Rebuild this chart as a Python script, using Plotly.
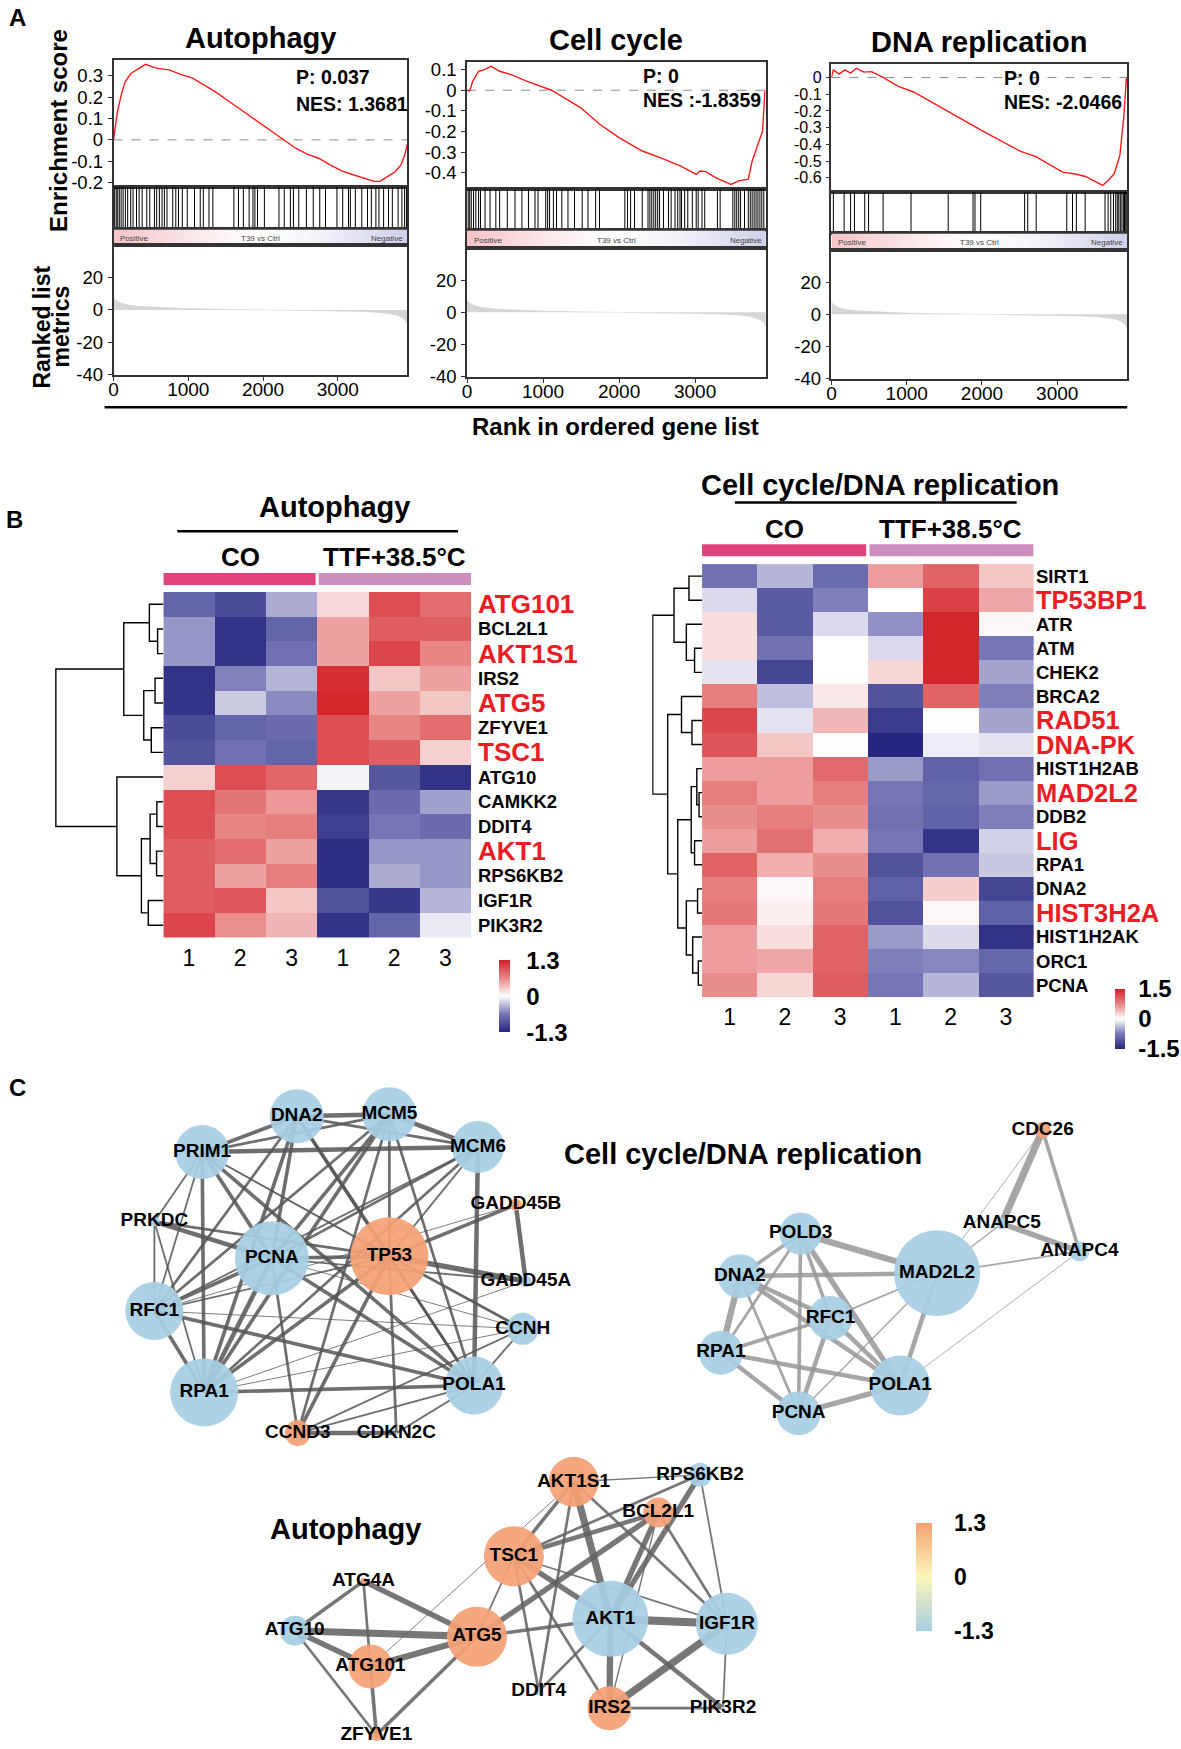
import plotly.graph_objects as go

W, H = 1181, 1749
FONT = "Liberation Sans, Arial, Helvetica, sans-serif"

# ====================== DATA ======================
# ---- Panel A : GSEA ----
gsea_titles = ["Autophagy", "Cell cycle", "DNA replication"]
gsea_p_text = ["P: 0.037", "P: 0", "P: 0"]
gsea_nes_text = ["NES: 1.3681", "NES :-1.8359", "NES: -2.0466"]
n_genes = 3930
rank_ticks = [0, 1000, 2000, 3000]
metric_ticks = [-40, -20, 0, 20]
es_ticks_autophagy = [-0.2, -0.1, 0, 0.1, 0.2, 0.3]
es_ticks_cellcycle = [-0.4, -0.3, -0.2, -0.1, 0, 0.1]
es_ticks_dnarep = [-0.6, -0.5, -0.4, -0.3, -0.2, -0.1, 0]

es_rank_autophagy = [0, 51, 103, 154, 231, 333, 426, 513, 590, 744, 897, 1051, 1205, 1359, 1615, 1872,
                     2128, 2282, 2436, 2590, 2744, 2897, 3051, 3205, 3359, 3487, 3564, 3641, 3718, 3769,
                     3846, 3897, 3930]
es_autophagy = [0.0, 0.13, 0.21, 0.27, 0.31, 0.334, 0.353, 0.342, 0.334, 0.327, 0.306, 0.29, 0.257, 0.225,
                0.163, 0.101, 0.039, 0.0, -0.039, -0.067, -0.086, -0.117, -0.145, -0.163, -0.179, -0.194,
                -0.194, -0.179, -0.16, -0.148, -0.117, -0.07, -0.02]

es_rank_cellcycle = [0, 35, 76, 152, 227, 318, 429, 581, 783, 985, 1111, 1492, 1746, 2000, 2305, 2558, 2812,
                     3015, 3066, 3142, 3269, 3472, 3574, 3700, 3751, 3827, 3888, 3919]
es_cellcycle = [0.0, -0.003, 0.044, 0.092, 0.1, 0.116, 0.092, 0.076, 0.044, 0.016, 0.0, -0.084, -0.165, -0.23,
                -0.295, -0.33, -0.368, -0.408, -0.392, -0.395, -0.424, -0.457, -0.44, -0.432, -0.343, -0.262,
                -0.198, 0.0]

es_rank_dnarep = [0, 25, 102, 178, 254, 330, 431, 533, 685, 888, 1091, 1497, 2005, 2513, 2716, 3071, 3223,
                  3376, 3604, 3680, 3756, 3832, 3883, 3919]
es_dnarep = [0.0, 0.045, 0.02, 0.045, 0.026, 0.055, 0.032, 0.035, 0.0, -0.053, -0.087, -0.191, -0.32, -0.442,
             -0.473, -0.566, -0.576, -0.592, -0.645, -0.615, -0.576, -0.467, -0.241, -0.004]

hits_autophagy = [15, 36, 56, 77, 102, 128, 158, 189, 230, 261, 307, 342, 383, 445, 485, 547, 577, 613, 649, 680,
                  715, 792, 833, 869, 920, 986, 1083, 1160, 1201, 1277, 1329, 1610, 1671, 1737, 1814, 1865, 1891,
                  1926, 2018, 2213, 2284, 2366, 2407, 2478, 2580, 2672, 2759, 2836, 2989, 3066, 3143, 3168, 3235,
                  3321, 3398, 3449, 3510, 3551, 3613, 3679, 3730, 3807, 3858, 3894, 3919]
hits_cellcycle = [15, 35, 56, 86, 116, 152, 177, 237, 303, 379, 429, 530, 631, 722, 808, 894, 934, 1035, 1061,
                  1086, 1136, 1177, 1247, 1328, 1414, 1515, 1591, 1692, 1742, 2076, 2112, 2152, 2203, 2305, 2381,
                  2406, 2431, 2457, 2482, 2508, 2533, 2584, 2650, 2685, 2736, 2772, 2802, 2822, 2863, 2904, 2964,
                  3015, 3041, 3091, 3127, 3294, 3330, 3497, 3523, 3548, 3574, 3599, 3650, 3700, 3726, 3751, 3777,
                  3802, 3827, 3853, 3878, 3904]
hits_dnarep = [25, 168, 254, 305, 442, 493, 686, 1057, 1551, 1881, 1907, 1983, 2567, 2608, 2720, 3127, 3203,
               3254, 3371, 3635, 3676, 3711, 3747, 3777, 3798, 3818, 3838, 3859, 3879, 3894, 3910, 3925]

metric_rank = [0, 30, 100, 200, 350, 600, 1000, 1500, 2000, 2500, 3000, 3300, 3550, 3700, 3800, 3870, 3910, 3930]
metric_value = [8.0, 6.0, 4.2, 3.0, 2.2, 1.5, 0.8, 0.4, 0.1, -0.2, -0.6, -1.0, -1.6, -2.4, -3.5, -5.0, -7.0, -9.0]

bar_labels = ["Positive", "T39 vs Ctrl", "Negative"]

# ---- Panel B : heatmaps ----
sample_labels = ["1", "2", "3", "1", "2", "3"]
group_labels = ["CO", "TTF+38.5°C"]

auto_genes = ["ATG101", "BCL2L1", "AKT1S1", "IRS2", "ATG5", "ZFYVE1", "TSC1", "ATG10", "CAMKK2", "DDIT4",
              "AKT1", "RPS6KB2", "IGF1R", "PIK3R2"]
auto_highlight = ["ATG101", "AKT1S1", "ATG5", "TSC1", "AKT1"]
auto_z = [
    [-0.8, -1.0, -0.4, 0.2, 1.0, 0.8],
    [-0.5, -1.2, -0.8, 0.5, 0.9, 0.9],
    [-0.5, -1.2, -0.7, 0.5, 1.05, 0.65],
    [-1.2, -0.6, -0.35, 1.2, 0.3, 0.5],
    [-1.2, -0.25, -0.55, 1.25, 0.5, 0.3],
    [-1.0, -0.8, -0.75, 1.0, 0.65, 0.8],
    [-0.95, -0.7, -0.8, 1.0, 0.9, 0.25],
    [0.25, 1.0, 0.85, -0.05, -0.9, -1.2],
    [1.0, 0.75, 0.55, -1.15, -0.75, -0.45],
    [1.0, 0.65, 0.7, -1.1, -0.65, -0.75],
    [0.9, 0.8, 0.5, -1.25, -0.5, -0.5],
    [0.9, 0.5, 0.7, -1.25, -0.4, -0.5],
    [0.9, 0.95, 0.3, -0.95, -1.15, -0.35],
    [1.05, 0.6, 0.4, -1.2, -0.8, -0.1],
]
# dendrogram: (merge height, left, right); leaves are row indices
auto_tree = (10.0,
             (3.68, (1.30, 0, (0.53, 1, 2)), (1.82, (0.77, 3, 4), (1.12, 5, 6))),
             (4.32, 7, (2.04, (1.23, (0.60, 8, 9), (0.63, 10, 11)), (1.40, 12, 13))))
auto_scale_vals = [-1.3, 0, 1.3]
auto_scale_text = ["-1.3", "0", "1.3"]

cc_genes = ["SIRT1", "TP53BP1", "ATR", "ATM", "CHEK2", "BRCA2", "RAD51", "DNA-PK", "HIST1H2AB", "MAD2L2",
            "DDB2", "LIG", "RPA1", "DNA2", "HIST3H2A", "HIST1H2AK", "ORC1", "PCNA"]
cc_highlight = ["TP53BP1", "RAD51", "DNA-PK", "MAD2L2", "LIG", "HIST3H2A"]
cc_z = [
    [-0.8, -0.4, -0.85, 0.6, 1.0, 0.35],
    [-0.2, -1.0, -0.7, 0.0, 1.25, 0.55],
    [0.2, -1.0, -0.2, -0.6, 1.45, 0.05],
    [0.2, -0.8, 0.0, -0.2, 1.45, -0.75],
    [-0.15, -1.2, 0.0, 0.25, 1.45, -0.5],
    [0.8, -0.35, 0.15, -1.1, 1.0, -0.7],
    [1.2, -0.15, 0.45, -1.3, 0.02, -0.5],
    [1.1, 0.35, 0.02, -1.5, -0.1, -0.15],
    [0.6, 0.6, 0.95, -0.55, -0.95, -0.8],
    [0.8, 0.6, 0.8, -0.75, -0.9, -0.55],
    [0.7, 0.8, 0.7, -0.8, -0.95, -0.7],
    [0.6, 0.9, 0.5, -0.75, -1.35, -0.25],
    [1.0, 0.5, 0.7, -1.1, -0.8, -0.3],
    [0.8, 0.05, 0.8, -0.95, 0.3, -1.2],
    [0.85, 0.1, 0.85, -1.1, 0.05, -0.95],
    [0.6, 0.2, 1.0, -0.55, -0.2, -1.4],
    [0.6, 0.55, 1.0, -0.7, -0.65, -0.9],
    [0.7, 0.25, 1.05, -0.75, -0.4, -1.05],
]
cc_tree = (132,
           (75, (35, 0, 1), (42, 2, (20, 3, 4))),
           (92, (55, 5, (27, 6, 7)),
            (65, (29, (14, 8, (8, 9, 10)), (20, 11, 12)),
             (42, (12, 13, 14), (25, 15, (10, 16, 17))))))
cc_scale_vals = [-1.5, 0, 1.5]
cc_scale_text = ["-1.5", "0", "1.5"]

# ---- Panel C : interaction networks (layout coordinates, node value, node size, edge weight) ----
net1_nodes = ["DNA2", "MCM5", "MCM6", "PRIM1", "PRKDC", "PCNA", "TP53", "GADD45B", "GADD45A", "RFC1", "CCNH",
              "RPA1", "POLA1", "CCND3", "CDKN2C"]
net1_x = [293, 386, 475, 198, 150, 268, 386, 513, 523, 150, 520, 200, 471, 294, 393]
net1_y = [1119, 1117, 1150, 1155, 1225, 1262, 1260, 1208, 1285, 1315, 1333, 1397, 1390, 1438, 1438]
net1_size = [54, 54, 52, 54, 10, 74, 78, 12, 12, 58, 32, 68, 58, 26, 2]
net1_value = [-1.3, -1.3, -1.3, -1.3, -1.3, -1.3, 1.3, 1.3, -1.3, -1.3, -1.3, -1.3, -1.3, 1.3, -1.3]
net1_edges = [
    ("DNA2", "MCM5", 5), ("DNA2", "MCM6", 3), ("DNA2", "PRIM1", 4), ("DNA2", "PCNA", 4), ("DNA2", "TP53", 4),
    ("DNA2", "RFC1", 3), ("DNA2", "RPA1", 4), ("DNA2", "POLA1", 3),
    ("MCM5", "MCM6", 5), ("MCM5", "PRIM1", 3), ("MCM5", "PCNA", 4), ("MCM5", "TP53", 3), ("MCM5", "RFC1", 3),
    ("MCM5", "RPA1", 4), ("MCM5", "POLA1", 3), ("MCM5", "CCND3", 3),
    ("MCM6", "PRIM1", 5), ("MCM6", "PCNA", 3), ("MCM6", "RPA1", 3), ("MCM6", "POLA1", 5), ("MCM6", "RFC1", 2),
    ("MCM6", "TP53", 2),
    ("PRIM1", "PCNA", 4), ("PRIM1", "RFC1", 2), ("PRIM1", "RPA1", 4), ("PRIM1", "POLA1", 4), ("PRIM1", "TP53", 2),
    ("PRIM1", "PRKDC", 2), ("PRIM1", "CCNH", 1),
    ("PRKDC", "PCNA", 5), ("PRKDC", "TP53", 3), ("PRKDC", "RFC1", 2), ("PRKDC", "RPA1", 2),
    ("PCNA", "TP53", 4), ("PCNA", "RFC1", 4), ("PCNA", "RPA1", 5), ("PCNA", "POLA1", 4), ("PCNA", "CCND3", 3),
    ("PCNA", "GADD45A", 2), ("PCNA", "CCNH", 1),
    ("TP53", "GADD45B", 4), ("TP53", "GADD45A", 6), ("TP53", "CCNH", 3), ("TP53", "POLA1", 3), ("TP53", "RPA1", 4),
    ("TP53", "RFC1", 2), ("TP53", "CCND3", 4), ("TP53", "CDKN2C", 3),
    ("GADD45B", "GADD45A", 5), ("GADD45B", "RFC1", 1), ("GADD45A", "RPA1", 1),
    ("RFC1", "RPA1", 4), ("RFC1", "POLA1", 4), ("RFC1", "CCNH", 1),
    ("CCNH", "RPA1", 1), ("CCNH", "POLA1", 2), ("CCNH", "CCND3", 2),
    ("RPA1", "POLA1", 4), ("POLA1", "CCND3", 2), ("POLA1", "CDKN2C", 2), ("CCND3", "CDKN2C", 5),
]

net2_nodes = ["POLD3", "DNA2", "MAD2L2", "RFC1", "RPA1", "POLA1", "PCNA", "ANAPC5", "ANAPC4", "CDC26"]
net2_x = [799, 738, 936, 829, 719, 899, 797, 1001, 1079, 1042]
net2_y = [1237, 1280, 1277, 1322, 1357, 1390, 1418, 1227, 1255, 1133]
net2_size = [42, 44, 86, 44, 44, 60, 44, 12, 20, 16]
net2_value = [-1.3, -1.3, -1.3, -1.3, -1.3, -1.3, -1.3, -1.3, -1.3, 1.3]
net2_edges = [
    ("POLD3", "DNA2", 4), ("POLD3", "MAD2L2", 7), ("POLD3", "RFC1", 4), ("POLD3", "RPA1", 3), ("POLD3", "PCNA", 4),
    ("POLD3", "POLA1", 6), ("DNA2", "MAD2L2", 5), ("DNA2", "RFC1", 5), ("DNA2", "RPA1", 7), ("DNA2", "PCNA", 3),
    ("DNA2", "POLA1", 5), ("MAD2L2", "RFC1", 2), ("MAD2L2", "POLA1", 5), ("MAD2L2", "PCNA", 1.5),
    ("MAD2L2", "ANAPC5", 1.5), ("MAD2L2", "ANAPC4", 2), ("MAD2L2", "CDC26", 1), ("RFC1", "RPA1", 4),
    ("RFC1", "PCNA", 5), ("RFC1", "POLA1", 5), ("RPA1", "PCNA", 5), ("RPA1", "POLA1", 5), ("PCNA", "POLA1", 6),
    ("POLA1", "ANAPC4", 1), ("CDC26", "ANAPC5", 8), ("CDC26", "ANAPC4", 4), ("ANAPC5", "ANAPC4", 6),
]

net3_nodes = ["AKT1S1", "RPS6KB2", "BCL2L1", "TSC1", "ATG4A", "ATG10", "ATG101", "ATG5", "AKT1", "IGF1R",
              "DDIT4", "IRS2", "PIK3R2", "ZFYVE1"]
net3_x = [571, 698, 656, 511, 360, 291, 367, 474, 608, 725, 536, 607, 721, 373]
net3_y = [1487, 1480, 1518, 1562, 1587, 1637, 1673, 1643, 1625, 1630, 1698, 1715, 1715, 1742]
net3_size = [50, 24, 30, 60, 6, 30, 44, 60, 76, 62, 8, 44, 4, 12]
net3_value = [1.3, -1.3, 1.3, 1.3, 1.3, -1.3, 1.3, 1.3, -1.3, -1.3, -1.3, 1.3, -1.3, 1.3]
net3_edges = [
    ("AKT1S1", "RPS6KB2", 1.5), ("AKT1S1", "TSC1", 4), ("AKT1S1", "AKT1", 8), ("AKT1S1", "IGF1R", 3),
    ("AKT1S1", "DDIT4", 3), ("AKT1S1", "ATG101", 1),
    ("TSC1", "BCL2L1", 5), ("ATG5", "BCL2L1", 6), ("RPS6KB2", "TSC1", 3), ("RPS6KB2", "AKT1", 6),
    ("BCL2L1", "AKT1", 6), ("RPS6KB2", "IGF1R", 2), ("BCL2L1", "IGF1R", 3), ("BCL2L1", "IRS2", 1.5),
    ("TSC1", "AKT1", 6), ("TSC1", "IGF1R", 2), ("TSC1", "ATG5", 2), ("TSC1", "DDIT4", 3), ("TSC1", "IRS2", 3),
    ("ATG5", "AKT1", 4), ("ATG5", "ATG4A", 6), ("ATG5", "ATG10", 8), ("ATG5", "ATG101", 7), ("ATG5", "ZFYVE1", 4),
    ("ATG10", "ATG4A", 4), ("ATG10", "ATG101", 6), ("ATG10", "ZFYVE1", 3), ("ATG4A", "ATG101", 3),
    ("ATG101", "ZFYVE1", 4), ("AKT1", "IGF1R", 9), ("AKT1", "IRS2", 7), ("AKT1", "DDIT4", 3),
    ("AKT1", "PIK3R2", 5), ("IGF1R", "IRS2", 8), ("IGF1R", "PIK3R2", 2), ("IRS2", "PIK3R2", 3),
]
net_scale_vals = [-1.3, 0, 1.3]
net_scale_text = ["-1.3", "0", "1.3"]

# ====================== FIGURE ======================
layout = dict(width=W, height=H, autosize=False, margin=dict(l=0, r=0, t=0, b=0),
              paper_bgcolor="white", plot_bgcolor="white", showlegend=False,
              font=dict(family=FONT, color="black"))
traces, annotations, shapes = [], [], []
axis_count = [0]


def px_x(p):
    return p / W


def px_y(p):
    return 1 - p / H


def add_axes(x0, x1, y0, y1, xkw=None, ykw=None):
    axis_count[0] += 1
    n = axis_count[0]
    sfx = "" if n == 1 else str(n)
    base = dict(showgrid=False, zeroline=False, showticklabels=False, ticks="", showline=False, fixedrange=True)
    xa = dict(base, domain=[px_x(x0), px_x(x1)], anchor="y" + sfx)
    ya = dict(base, domain=[px_y(y1), px_y(y0)], anchor="x" + sfx)
    if xkw:
        xa.update(xkw)
    if ykw:
        ya.update(ykw)
    layout["xaxis" + sfx] = xa
    layout["yaxis" + sfx] = ya
    return "x" + sfx, "y" + sfx


def text(x, y, s, size, bold=False, color="black", xanchor="center", yanchor="middle", angle=0,
         xref="paper", yref="paper"):
    annotations.append(dict(x=x, y=y, xref=xref, yref=yref, text=("<b>%s</b>" % s) if bold else s,
                            showarrow=False, xanchor=xanchor, yanchor=yanchor, textangle=angle,
                            font=dict(size=size, color=color, family=FONT), borderpad=0))


BOX = dict(showline=True, mirror=True, linecolor="#333333", linewidth=1.5)
XTICKF = dict(size=19, family=FONT, color="black")
TITLE = 29

# ---------------- Panel A ----------------
gsea_es = [(es_rank_autophagy, es_autophagy, hits_autophagy, es_ticks_autophagy),
           (es_rank_cellcycle, es_cellcycle, hits_cellcycle, es_ticks_cellcycle),
           (es_rank_dnarep, es_dnarep, hits_dnarep, es_ticks_dnarep)]
# geometry: left, right, es_top, hits_top, bar_top, rank_top, rank_bottom (pixels), es axis range, title y,
# ES tick font size
gsea_geom = [(109, 404, 58, 186, 229, 245, 376, (-0.219, 0.375), 36, 18.5),
             (464, 764, 60, 188, 230, 248, 378, (-0.478, 0.139), 38, 18.5),
             (830, 1127, 62, 191, 233, 250, 380, (-0.683, 0.083), 40, 16)]
text_pos = [(291, 76, 103), (640, 75, 99), (1002, 77, 101)]

for i in range(3):
    ranks, es, hits, es_ticks = gsea_es[i]
    L, R, t0, t1, t2, t3, t4, es_rng, ty, esf = gsea_geom[i]
    xr = [0, n_genes]
    # enrichment score
    xs, ys = add_axes(L, R, t0, t1, dict(BOX, range=xr),
                      dict(BOX, range=list(es_rng), tickvals=es_ticks, ticktext=[("%g" % v) for v in es_ticks],
                           showticklabels=True, ticks="outside", ticklen=4, tickcolor="#333",
                           tickfont=dict(size=esf, family=FONT, color="black"), ticklabelstandoff=1))
    shapes.append(dict(type="line", xref=xs + " domain", x0=0, x1=1, yref=ys, y0=0, y1=0,
                       line=dict(color="#8c8c8c", width=1, dash="dash"), layer="below"))
    traces.append(go.Scatter(x=ranks, y=es, mode="lines", line=dict(color="#ff1a1a", width=1.4),
                             xaxis=xs, yaxis=ys, hoverinfo="skip"))
    # hits
    xs, ys = add_axes(L, R, t1, t2, dict(BOX, range=xr), dict(BOX, range=[0, 1]))
    hx, hy = [], []
    for r in hits:
        hx += [r, r, None]
        hy += [0, 1, None]
    traces.append(go.Scatter(x=hx, y=hy, mode="lines", line=dict(color="black", width=1),
                             xaxis=xs, yaxis=ys, hoverinfo="skip"))
    # colour band
    xs, ys = add_axes(L, R, t2, t3, dict(BOX, range=xr), dict(BOX, range=[0, 1]))
    traces.append(go.Scatter(x=[0, n_genes, n_genes, 0, 0], y=[0, 0, 1, 1, 0], mode="lines", fill="toself",
                             fillgradient=dict(type="horizontal",
                                               colorscale=[[0, "#f5c4c8"], [0.35, "#fdf2f3"], [0.5, "#ffffff"],
                                                           [0.7, "#f3f3fa"], [1, "#cfd0ea"]]),
                             line=dict(width=0), xaxis=xs, yaxis=ys, hoverinfo="skip"))
    text(0.02, 0.45, bar_labels[0], 8, color="#444", xanchor="left", xref=xs + " domain", yref=ys + " domain")
    text(0.5, 0.45, bar_labels[1], 8, color="#444", xref=xs + " domain", yref=ys + " domain")
    text(0.99, 0.45, bar_labels[2], 8, color="#444", xanchor="right", xref=xs + " domain", yref=ys + " domain")
    # ranked list metric
    xs, ys = add_axes(L, R, t3, t4,
                      dict(BOX, range=xr, tickvals=rank_ticks, ticktext=[str(v) for v in rank_ticks],
                           showticklabels=True, ticks="outside", ticklen=4, tickcolor="#333", tickfont=XTICKF,
                           ticklabelstandoff=-8),
                      dict(BOX, range=[-40.6, 40], tickvals=metric_ticks, ticktext=[str(v) for v in metric_ticks],
                           showticklabels=True, ticks="outside", ticklen=4, tickcolor="#333",
                           tickfont=dict(size=18.5, family=FONT, color="black"), ticklabelstandoff=1))
    traces.append(go.Scatter(x=metric_rank, y=metric_value, mode="lines", fill="tozeroy",
                             fillcolor="#d6d6d6", line=dict(color="#d6d6d6", width=0.5),
                             xaxis=xs, yaxis=ys, hoverinfo="skip"))
    # titles and stats
    text(px_x((L + R) / 2), px_y(ty), gsea_titles[i], TITLE, bold=True)
    tx, py1, py2 = text_pos[i]
    text(px_x(tx), px_y(py1), gsea_p_text[i], 19.5, bold=True, xanchor="left")
    text(px_x(tx), px_y(py2), gsea_nes_text[i], 19.5, bold=True, xanchor="left")

text(px_x(13), px_y(16), "A", 24, bold=True)
text(px_x(53), px_y(129), "Enrichment score", 24, bold=True, angle=-90)
text(px_x(37), px_y(327), "Ranked list", 23, bold=True, angle=-90)
text(px_x(56), px_y(327), "metrics", 23, bold=True, angle=-90)
shapes.append(dict(type="line", xref="paper", yref="paper", x0=px_x(100), x1=px_x(1127), y0=px_y(408),
                   y1=px_y(408), line=dict(color="black", width=2.5)))
text(px_x(613), px_y(427), "Rank in ordered gene list", 24, bold=True)

# ---------------- Panel B ----------------
HEAT_SCALE = [[0, "#26267e"], [0.25, "#7676b6"], [0.5, "#ffffff"], [0.75, "#e88585"], [1, "#d11f26"]]


def dendro(node):
    if isinstance(node, int):
        return float(node), 0.0, [], []
    h, a, b = node
    pa, ha, xa, ya = dendro(a)
    pb, hb, xb, yb = dendro(b)
    return (pa + pb) / 2, h, xa + xb + [ha, h, h, hb, None], ya + yb + [pa, pa, pb, pb, None]


def build_heat(genes, z, hl, tree, g, cax, svals, stext):
    n = len(genes)
    xs, ys = add_axes(g["hx0"], g["hx1"], g["hy0"], g["hy1"],
                      dict(range=[-0.5, 5.5], tickvals=list(range(6)), ticktext=sample_labels,
                           showticklabels=True, ticklabelstandoff=4,
                           tickfont=dict(size=23, family=FONT, color="black")),
                      dict(range=[n - 0.5, -0.5]))
    traces.append(go.Heatmap(z=z, x=list(range(6)), y=list(range(n)), coloraxis=cax, xaxis=xs, yaxis=ys,
                             hoverinfo="skip"))
    for r, gname in enumerate(genes):
        if gname in hl:
            text(px_x(g["lx"]), r, gname, g["hlsize"], bold=True, color="#ec1c24", xanchor="left", yref=ys)
        else:
            text(px_x(g["lx"]), r, gname, 18.5, bold=True, xanchor="left", yref=ys)
    # group bars
    shapes.append(dict(type="rect", xref=xs, x0=-0.5, x1=2.47, yref="paper", y0=px_y(g["by1"]), y1=px_y(g["by0"]),
                       fillcolor="#e0437b", line=dict(width=0)))
    shapes.append(dict(type="rect", xref=xs, x0=2.53, x1=5.5, yref="paper", y0=px_y(g["by1"]), y1=px_y(g["by0"]),
                       fillcolor="#cd8ebf", line=dict(width=0)))
    text(1, px_y(g["gy"]), group_labels[0], 26, bold=True, xref=xs)
    text(4, px_y(g["gy"]), group_labels[1], 26, bold=True, xref=xs)
    shapes.append(dict(type="line", xref="paper", yref="paper", x0=px_x(g["tl0"]), x1=px_x(g["tl1"]),
                       y0=px_y(g["tly"]), y1=px_y(g["tly"]), line=dict(color="black", width=2.5)))
    text(px_x(g["tx"]), px_y(g["ty"]), g["title"], TITLE, bold=True)
    # dendrogram
    _, root_h, dxs, dys = dendro(tree)
    dx, dy = add_axes(g["dx0"], g["hx0"], g["hy0"], g["hy1"], dict(range=[root_h * 1.01, 0]),
                      dict(range=[n - 0.5, -0.5]))
    traces.append(go.Scatter(x=dxs, y=dys, mode="lines", line=dict(color="black", width=1.4),
                             xaxis=dx, yaxis=dy, hoverinfo="skip"))
    layout[cax] = dict(cmin=svals[0], cmax=svals[-1], colorscale=HEAT_SCALE,
                       colorbar=dict(x=px_x(g["cbx"]), xanchor="left", xpad=0, ypad=0, y=px_y(g["cby"]),
                                     yanchor="middle", len=g["cblen"], lenmode="pixels", thickness=g["cbt"],
                                     thicknessmode="pixels", tickvals=svals, ticktext=stext, ticks="outside",
                                     ticklen=g["cbpad"], tickcolor="rgba(0,0,0,0)", outlinewidth=0,
                                     tickfont=dict(size=24, family=FONT, color="black", weight="bold")))


build_heat(auto_genes, auto_z, auto_highlight, auto_tree,
           dict(hx0=159, hx1=468, hy0=594, hy1=942, dx0=50, lx=474, hlsize=26, by0=575, by1=587, gy=559,
                tl0=173, tl1=455, tly=533, tx=331, ty=508, title="Autophagy",
                cbx=496, cby=1001, cblen=72, cbt=11, cbpad=12),
           "coloraxis", auto_scale_vals, auto_scale_text)
build_heat(cc_genes, cc_z, cc_highlight, cc_tree,
           dict(hx0=700, hx1=1033, hy0=566, hy1=1002, dx0=650, lx=1034, hlsize=25.5, by0=546, by1=558, gy=531,
                tl0=733, tl1=1016, tly=504, tx=879, ty=486, title="Cell cycle/DNA replication",
                cbx=1115, cby=1024, cblen=60, cbt=10, cbpad=9),
           "coloraxis2", cc_scale_vals, cc_scale_text)
text(px_x(10), px_y(521), "B", 24, bold=True)

# ---------------- Panel C ----------------
CSHIFT = 3  # small vertical offset of the whole network panel (pixels)
cx, cy = add_axes(0, W, 1075, H, dict(range=[0, W]), dict(range=[H - CSHIFT, 1075 - CSHIFT]))
NODE_SCALE = [[0, "#a7cde3"], [0.5, "#fcf6b9"], [1, "#f4a175"]]
layout["coloraxis3"] = dict(cmin=net_scale_vals[0], cmax=net_scale_vals[-1], colorscale=NODE_SCALE,
                            colorbar=dict(x=px_x(915), xanchor="left", xpad=0, ypad=0, y=px_y(1583 + CSHIFT),
                                          yanchor="middle", len=108, lenmode="pixels", thickness=16,
                                          thicknessmode="pixels", tickvals=net_scale_vals, ticktext=net_scale_text,
                                          ticks="outside", ticklen=18, tickcolor="rgba(0,0,0,0)", outlinewidth=0,
                                          tickfont=dict(size=23, family=FONT, color="black", weight="bold")))


def add_network(nodes, nx, ny, size, val, edges, ecolor, show_cb):
    idx = {nm: k for k, nm in enumerate(nodes)}
    for w in sorted(set(e[2] for e in edges)):
        ex, ey = [], []
        for a, b, ww in edges:
            if ww == w:
                ex += [nx[idx[a]], nx[idx[b]], None]
                ey += [ny[idx[a]], ny[idx[b]], None]
        traces.append(go.Scatter(x=ex, y=ey, mode="lines", line=dict(color=ecolor, width=w * 0.9),
                                 xaxis=cx, yaxis=cy, hoverinfo="skip"))
    traces.append(go.Scatter(x=nx, y=ny, mode="markers+text", text=nodes, textposition="middle center",
                             textfont=dict(size=19, family=FONT, color="black", weight="bold"),
                             marker=dict(size=size, color=val, coloraxis="coloraxis3", opacity=0.93,
                                         line=dict(width=0), showscale=show_cb),
                             cliponaxis=False, xaxis=cx, yaxis=cy, hoverinfo="skip"))


add_network(net1_nodes, net1_x, net1_y, net1_size, net1_value, net1_edges, "rgba(85,85,85,0.85)", False)
add_network(net2_nodes, net2_x, net2_y, net2_size, net2_value, net2_edges, "rgba(150,150,150,0.85)", False)
add_network(net3_nodes, net3_x, net3_y, net3_size, net3_value, net3_edges, "rgba(95,95,95,0.85)", True)

text(px_x(741), px_y(1157 + CSHIFT), "Cell cycle/DNA replication", TITLE, bold=True)
text(px_x(342), px_y(1535 + CSHIFT), "Autophagy", TITLE, bold=True)
text(px_x(13), px_y(1093), "C", 24, bold=True)

layout["annotations"] = annotations
layout["shapes"] = shapes
fig = go.Figure(data=traces, layout=layout)
fig.write_html("out.html", config={"displayModeBar": False},
               post_script="document.body.style.margin='0';document.body.style.overflow='hidden';")
